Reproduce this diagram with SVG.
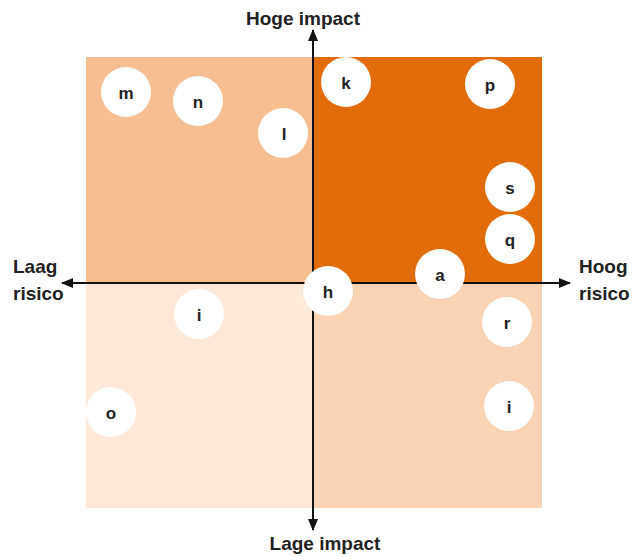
<svg xmlns="http://www.w3.org/2000/svg" width="638" height="556" viewBox="0 0 638 556">
<style>
.lbl{font-family:"Liberation Sans",Arial,sans-serif;font-weight:bold;font-size:19px;fill:#222}
.node circle{fill:#fff}
.node text{font-family:"Liberation Sans",Arial,sans-serif;font-weight:bold;font-size:17px;fill:#222;text-anchor:middle;dominant-baseline:central}
.axis{stroke:#111;stroke-width:2;fill:none}
</style>
<defs>
<marker id="ah" viewBox="0 0 12 10" refX="11" refY="5" markerWidth="12" markerHeight="10" markerUnits="userSpaceOnUse" orient="auto">
<path d="M0,0 L12,5 L0,10 Z" fill="#111"/>
</marker>
</defs>
<g id="quadrants">
<rect x="86" y="57" width="227" height="226" fill="#F7BE91"/>
<rect x="313" y="57" width="229" height="226" fill="#E36C0A"/>
<rect x="86" y="283" width="227" height="225" fill="#FDE8D9"/>
<rect x="313" y="283" width="229" height="225" fill="#FAD2B4"/>
</g>
<g id="connectors">
<line class="axis" x1="313" y1="283" x2="313" y2="30" marker-end="url(#ah)"/>
<line class="axis" x1="313" y1="283" x2="313" y2="530" marker-end="url(#ah)"/>
<line class="axis" x1="313" y1="283" x2="570" y2="283" marker-end="url(#ah)"/>
<line class="axis" x1="313" y1="283" x2="62" y2="283" marker-end="url(#ah)"/>
</g>
<g id="labels">
<text class="lbl" x="303" y="25" text-anchor="middle">Hoge impact</text>
<text class="lbl" x="325" y="550" text-anchor="middle">Lage impact</text>
<text class="lbl" x="13" y="273">Laag</text>
<text class="lbl" x="13" y="300">risico</text>
<text class="lbl" x="579" y="273">Hoog</text>
<text class="lbl" x="579" y="300">risico</text>
</g>
<g id="node-m" class="node"><circle cx="126" cy="92" r="25"/><text x="126" y="93">m</text></g>
<g id="node-n" class="node"><circle cx="198" cy="101" r="25"/><text x="198" y="102">n</text></g>
<g id="node-l" class="node"><circle cx="283" cy="133" r="25"/><text x="284" y="134">l</text></g>
<g id="node-k" class="node"><circle cx="346" cy="82" r="25"/><text x="346" y="83">k</text></g>
<g id="node-p" class="node"><circle cx="490" cy="84" r="25"/><text x="490" y="85">p</text></g>
<g id="node-s" class="node"><circle cx="510" cy="187" r="25"/><text x="510" y="188">s</text></g>
<g id="node-q" class="node"><circle cx="510" cy="239" r="25"/><text x="510" y="240">q</text></g>
<g id="node-a" class="node"><circle cx="440" cy="274" r="25"/><text x="440" y="275">a</text></g>
<g id="node-h" class="node"><circle cx="328" cy="291" r="25"/><text x="328" y="292">h</text></g>
<g id="node-i1" class="node"><circle cx="199" cy="314" r="25"/><text x="199" y="315">i</text></g>
<g id="node-r" class="node"><circle cx="507" cy="322" r="25"/><text x="507" y="323">r</text></g>
<g id="node-i2" class="node"><circle cx="509" cy="406" r="25"/><text x="509" y="407">i</text></g>
<g id="node-o" class="node"><circle cx="111" cy="412" r="25"/><text x="111" y="413">o</text></g>
</svg>
